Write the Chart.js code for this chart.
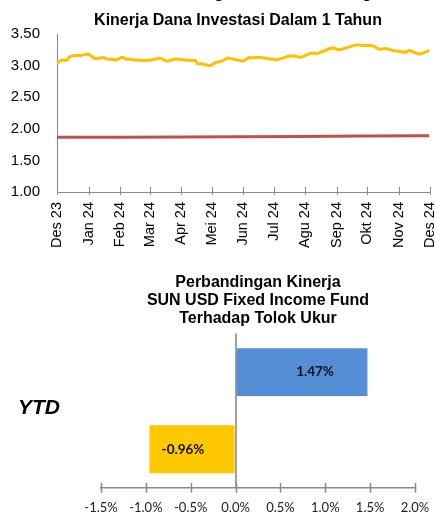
<!DOCTYPE html>
<html><head><meta charset="utf-8">
<script src="https://cdn.jsdelivr.net/npm/chart.js@4.4.1/dist/chart.umd.min.js"></script>
<style>
html,body{margin:0;padding:0;background:#fff;width:435px;height:514px;overflow:hidden;position:relative;}
#w1{position:absolute;left:0;top:-24px;width:435px;height:284px;}
#w2{position:absolute;left:0;top:255px;width:435px;height:259px;}
canvas{display:block;}
</style></head><body>
<div id="w1"><canvas id="c1" width="435" height="284"></canvas></div>
<div id="w2"><canvas id="c2" width="435" height="259"></canvas></div>
<script>
// ---------- Top chart data ----------
const topTitle = ['Grafik Perbandingan Tolok Ukur dengan', 'Kinerja Dana Investasi Dalam 1 Tahun'];
const monthLabels = ['Des 23','Jan 24','Feb 24','Mar 24','Apr 24','Mei 24','Jun 24','Jul 24','Agu 24','Sep 24','Okt 24','Nov 24','Des 24'];
const monthTickDays = [0,31,62,91,122,152,183,213,244,275,305,336,366];
const fundDays = [0,2,4,6,8,10,12,14,17,20,23,26,29,31,33,36,39,42,45,48,51,54,57,60,63,65,68,72,76,80,84,88,92,96,100,103,106,109,112,116,120,124,128,132,136,138,141,144,147,150,153,156,159,162,165,168,171,174,177,180,183,186,189,192,196,200,204,208,212,216,220,224,228,232,236,240,244,248,252,256,260,264,268,272,276,280,284,288,292,296,300,304,308,312,315,318,322,326,330,334,338,342,346,349,352,356,360,363,366];
const fundNav = [3.04,3.06,3.08,3.09,3.08,3.09,3.14,3.15,3.16,3.16,3.16,3.17,3.18,3.18,3.16,3.12,3.11,3.12,3.13,3.11,3.10,3.10,3.09,3.10,3.13,3.13,3.10,3.10,3.09,3.09,3.08,3.08,3.09,3.10,3.12,3.11,3.08,3.07,3.09,3.10,3.10,3.09,3.09,3.08,3.08,3.03,3.03,3.02,3.01,3.00,3.02,3.05,3.06,3.07,3.10,3.12,3.11,3.10,3.09,3.08,3.07,3.10,3.13,3.12,3.13,3.13,3.12,3.11,3.10,3.09,3.11,3.13,3.15,3.15,3.14,3.13,3.16,3.19,3.20,3.19,3.22,3.24,3.27,3.28,3.25,3.26,3.28,3.30,3.32,3.33,3.32,3.32,3.32,3.30,3.27,3.26,3.27,3.26,3.24,3.23,3.22,3.21,3.24,3.22,3.20,3.18,3.20,3.22,3.24];
const benchDays = [0,60,120,180,240,300,366];
const benchValues = [1.865,1.868,1.871,1.874,1.879,1.885,1.890];
const topYMin = 1.0, topYMax = 3.5, topYStep = 0.5;

// ---------- Bottom chart data ----------
const bottomTitle = ['Perbandingan Kinerja', 'SUN USD Fixed Income Fund', 'Terhadap Tolok Ukur'];
const barCategories = ['YTD'];
const barSeriesNames = ['SUN USD Fixed Income Fund', 'Tolok Ukur'];
const fundYtd = [1.47];
const benchYtd = [-0.96];
const barXMin = -1.5, barXMax = 2.0, barXStep = 0.5;

const AXIS_GRAY = '#8a8a8a';

const crossTicks = {
  id: 'crossTicks',
  afterDraw(chart, args, opts) {
    const s = chart.scales.x;
    const ctx = chart.ctx;
    const y = chart.chartArea.bottom;
    ctx.save();
    ctx.strokeStyle = opts.color;
    ctx.lineWidth = opts.width;
    s.ticks.forEach(t => {
      const x = Math.round(s.getPixelForValue(t.value)) + 0.5;
      ctx.beginPath();
      ctx.moveTo(x, y - opts.up);
      ctx.lineTo(x, y + opts.down);
      ctx.stroke();
    });
    ctx.restore();
  }
};

// let the y-axis labels use the room left of the narrow axis box
const labelRoom = {
  id: 'labelRoom',
  afterLayout(chart) { chart.scales.y.left = 0; }
};

const barLabels = {
  id: 'barLabels',
  afterDatasetsDraw(chart, args, opts) {
    const ctx = chart.ctx;
    ctx.save();
    ctx.font = opts.font;
    ctx.fillStyle = opts.color;
    ctx.textAlign = 'center';
    ctx.textBaseline = 'middle';
    chart.data.datasets.forEach((ds, di) => {
      const meta = chart.getDatasetMeta(di);
      meta.data.forEach((el, i) => {
        const v = ds.data[i];
        const cx = (el.x + el.base) / 2 + opts.offsets[di];
        ctx.fillText(v.toFixed(2) + '%', cx, el.y);
      });
    });
    ctx.restore();
  }
};

new Chart(document.getElementById('c1'), {
  type: 'line',
  data: {
    datasets: [
      { label: 'Kinerja Dana', data: fundDays.map((d, i) => ({x: d, y: fundNav[i]})),
        borderColor: '#FFC000', borderWidth: 3, pointRadius: 0, tension: 0, fill: false },
      { label: 'Tolok Ukur', data: benchDays.map((d, i) => ({x: d, y: benchValues[i]})),
        borderColor: '#C0504D', borderWidth: 3, pointRadius: 0, tension: 0, fill: false }
    ]
  },
  options: {
    responsive: false, animation: false,
    layout: { padding: { left: 41, right: 0, top: 0, bottom: 0 } },
    plugins: {
      legend: { display: false }, tooltip: { enabled: false },
      title: { display: true, text: topTitle, color: '#000',
        font: { family: "'Liberation Sans', Arial, sans-serif", size: 16, weight: 'bold', lineHeight: 1.6875 },
        padding: { top: 4, bottom: 0 } },
      crossTicks: { color: AXIS_GRAY, width: 1, up: 5, down: 3 }
    },
    scales: {
      x: { type: 'linear', min: monthTickDays[0], max: monthTickDays[monthTickDays.length - 1],
        afterBuildTicks: s => { s.ticks = monthTickDays.map(v => ({ value: v })); },
        afterFit: s => { s.height = 68; s.paddingRight = 5.5; },
        ticks: { autoSkip: false, minRotation: 90, maxRotation: 90, padding: 10, color: '#000',
          font: { family: "'Liberation Sans', Arial, sans-serif", size: 14.5 },
          callback: (v, i) => monthLabels[i] },
        grid: { display: true, drawOnChartArea: false, drawTicks: false },
        border: { display: true, color: AXIS_GRAY, width: 1 } },
      y: { min: topYMin, max: topYMax,
        afterFit: s => { s.width = 16; s.paddingTop = 0; s.paddingBottom = 0; },
        ticks: { stepSize: topYStep, padding: 17, color: '#000',
          font: { family: "'Liberation Sans', Arial, sans-serif", size: 15 },
          callback: v => Number(v).toFixed(2) },
        grid: { display: true, drawOnChartArea: false, drawTicks: false },
        border: { display: true, color: AXIS_GRAY, width: 1 } }
    }
  },
  plugins: [crossTicks, labelRoom]
});

new Chart(document.getElementById('c2'), {
  type: 'bar',
  data: {
    labels: barCategories,
    datasets: [
      { label: barSeriesNames[0], data: fundYtd, backgroundColor: '#558ED5', categoryPercentage: 1, barPercentage: 0.62 },
      { label: barSeriesNames[1], data: benchYtd, backgroundColor: '#FFC800', categoryPercentage: 1, barPercentage: 0.62 }
    ]
  },
  options: {
    indexAxis: 'y', responsive: false, animation: false,
    layout: { padding: { left: 101, right: 20, top: 0, bottom: 0 } },
    plugins: {
      legend: { display: false }, tooltip: { enabled: false },
      title: { display: true, text: bottomTitle, color: '#000',
        font: { family: "'Liberation Sans', Arial, sans-serif", size: 16, weight: 'bold', lineHeight: 1.12 },
        padding: { top: 19, bottom: 5.8 } },
      crossTicks: { color: AXIS_GRAY, width: 1.5, up: 5, down: 5 },
      barLabels: { font: "bold 13.5px Lato, 'Liberation Sans', sans-serif", color: '#111', offsets: [13, -9] }
    },
    scales: {
      x: { type: 'linear', min: barXMin, max: barXMax,
        afterFit: s => { s.height = 26.2; s.paddingLeft = 0; s.paddingRight = 0; },
        ticks: { stepSize: barXStep, padding: 12, color: '#222',
          font: { family: "Lato, 'Liberation Sans', sans-serif", size: 13 },
          callback: v => Number(v).toFixed(1) + '%' },
        grid: { drawTicks: false, lineWidth: 2,
          color: c => (c.tick && Math.abs(c.tick.value) < 1e-9) ? '#a0a0a0' : 'rgba(0,0,0,0)' },
        border: { display: true, color: AXIS_GRAY, width: 1.5 } },
      y: { type: 'category',
        afterFit: s => { s.width = 0; s.paddingTop = 0; s.paddingBottom = 0; },
        ticks: { padding: 41, color: '#000', labelOffset: -2,
          font: { family: "'Liberation Sans', Arial, sans-serif", size: 21, weight: 'bold', style: 'italic' } },
        grid: { display: false, drawTicks: false },
        border: { display: false } }
    }
  },
  plugins: [crossTicks, barLabels, labelRoom]
});
</script>
</body></html>
